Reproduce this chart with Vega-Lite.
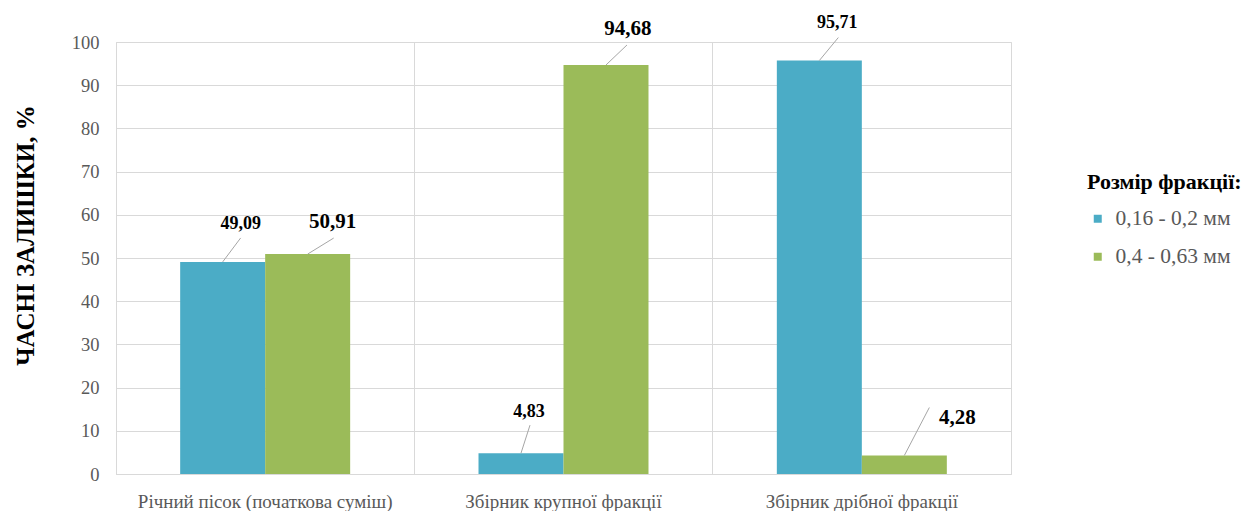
{
  "$schema": "https://vega.github.io/schema/vega-lite/v6.json",
  "width": 895,
  "height": 432,
  "autosize": "none",
  "padding": {"left": 116, "top": 42, "right": 234, "bottom": 37},
  "background": "white",
  "config": {
    "font": "Liberation Serif",
    "view": {"stroke": "#d9d9d9", "strokeWidth": 1},
    "locale": {"number": {"decimal": ",", "thousands": " ", "grouping": [3], "currency": ["", " грн"]}}
  },
  "data": {
    "values": [
      {"cat": "Річний пісок (початкова суміш)", "series": "0,16 - 0,2 мм", "value": 49.09},
      {"cat": "Річний пісок (початкова суміш)", "series": "0,4 - 0,63 мм", "value": 50.91},
      {"cat": "Збірник крупної фракції", "series": "0,16 - 0,2 мм", "value": 4.83},
      {"cat": "Збірник крупної фракції", "series": "0,4 - 0,63 мм", "value": 94.68},
      {"cat": "Збірник дрібної фракції", "series": "0,16 - 0,2 мм", "value": 95.71},
      {"cat": "Збірник дрібної фракції", "series": "0,4 - 0,63 мм", "value": 4.28}
    ]
  },
  "encoding": {
    "x": {
      "field": "cat",
      "type": "nominal",
      "sort": null,
      "scale": {"paddingInner": 0, "paddingOuter": 0},
      "axis": {
        "title": null,
        "labelAngle": 0,
        "labelFont": "Liberation Serif",
        "labelFontSize": 19,
        "labelColor": "#595959",
        "labelPadding": 18,
        "labelLimit": 0,
        "ticks": false,
        "domainColor": "#d9d9d9",
        "grid": true,
        "gridColor": "#d9d9d9",
        "bandPosition": 0
      }
    },
    "y": {
      "field": "value",
      "type": "quantitative",
      "scale": {"domain": [0, 100]},
      "axis": {
        "title": "ЧАСНІ ЗАЛИШКИ, %",
        "titleFont": "Liberation Serif",
        "titleFontSize": 25,
        "titleFontWeight": "bold",
        "titleColor": "#000000",
        "titleX": -91,
        "titleY": 193,
        "titleAngle": -90,
        "titleAlign": "center",
        "titleBaseline": "middle",
        "values": [0, 10, 20, 30, 40, 50, 60, 70, 80, 90, 100],
        "labelFont": "Liberation Serif",
        "labelFontSize": 18.5,
        "labelColor": "#595959",
        "labelPadding": 17,
        "labelOverlap": false,
        "ticks": false,
        "domain": false,
        "gridColor": "#d9d9d9"
      }
    }
  },
  "layer": [
    {
      "mark": {"type": "bar"},
      "encoding": {
        "xOffset": {
          "field": "series",
          "type": "nominal",
          "scale": {"paddingInner": 0, "paddingOuter": 0.755}
        },
        "color": {
          "field": "series",
          "type": "nominal",
          "scale": {"range": ["#4bacc6", "#9bbb59"]},
          "legend": {
            "title": "Розмір фракції:",
            "titleFont": "Liberation Serif",
            "titleFontSize": 22,
            "titleFontWeight": "bold",
            "titleColor": "#000000",
            "titlePadding": 14,
            "labelFont": "Liberation Serif",
            "labelFontSize": 21.5,
            "labelColor": "#595959",
            "labelOffset": 7,
            "symbolType": "square",
            "symbolSize": 64,
            "symbolStrokeWidth": 0,
            "rowPadding": 15,
            "orient": "none",
            "legendX": 971,
            "legendY": 130
          }
        }
      }
    },
    {
      "mark": {"type": "rule", "color": "#a6a6a6", "strokeWidth": 1},
      "encoding": {
        "x": {"value": {"expr": "scale('x', datum.cat) + scale('xOffset', datum.series) + bandwidth('xOffset') / 2"}},
        "y": {"value": {"expr": "scale('y', datum.value)"}},
        "x2": {"value": {"expr": "scale('x', datum.cat) + scale('xOffset', datum.series) + bandwidth('xOffset') / 2 + [18, 26, 9, 21, 19, 25][indexof(['Річний пісок (початкова суміш)', 'Збірник крупної фракції', 'Збірник дрібної фракції'], datum.cat) * 2 + (datum.series == '0,16 - 0,2 мм' ? 0 : 1)]"}},
        "y2": {"value": {"expr": "scale('y', datum.value) + [-24, -16, -28, -20, -23, -48][indexof(['Річний пісок (початкова суміш)', 'Збірник крупної фракції', 'Збірник дрібної фракції'], datum.cat) * 2 + (datum.series == '0,16 - 0,2 мм' ? 0 : 1)]"}}
      }
    },
    {
      "mark": {
        "type": "text",
        "font": "Liberation Serif",
        "fontWeight": "bold",
        "color": "#000000",
        "align": "center",
        "baseline": "middle",
        "fontSize": {"expr": "datum.series == '0,16 - 0,2 мм' ? 18 : 21"},
        "dx": {"expr": "[18, 25, 8, 22, 18, 53][indexof(['Річний пісок (початкова суміш)', 'Збірник крупної фракції', 'Збірник дрібної фракції'], datum.cat) * 2 + (datum.series == '0,16 - 0,2 мм' ? 0 : 1)]"},
        "dy": {"expr": "[-38, -32, -41, -36, -38, -38][indexof(['Річний пісок (початкова суміш)', 'Збірник крупної фракції', 'Збірник дрібної фракції'], datum.cat) * 2 + (datum.series == '0,16 - 0,2 мм' ? 0 : 1)]"}
      },
      "encoding": {
        "xOffset": {"field": "series", "type": "nominal"},
        "text": {"field": "value", "type": "quantitative", "format": ".2f"}
      }
    }
  ]
}
